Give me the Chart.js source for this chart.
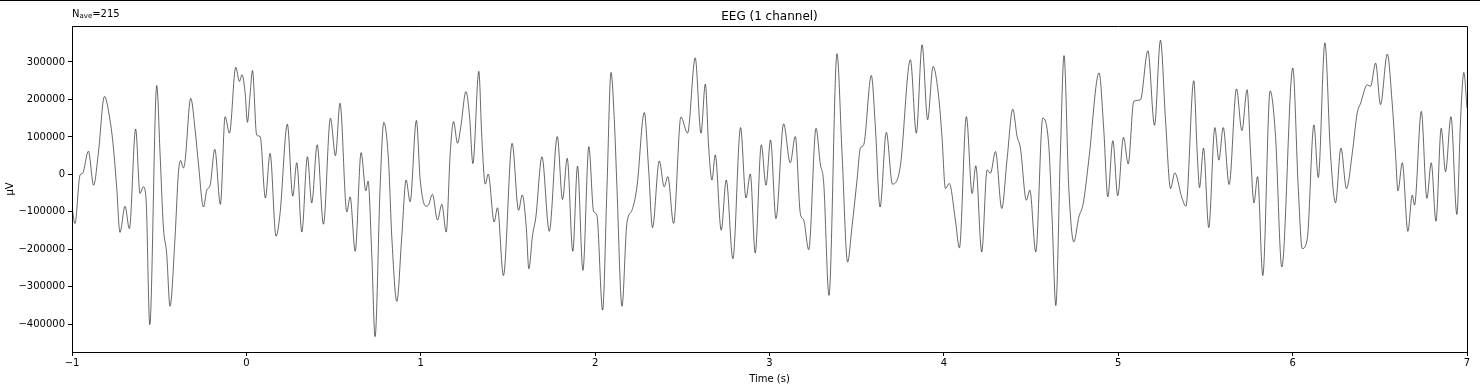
<!DOCTYPE html>
<html>
<head>
<meta charset="utf-8">
<script src="https://cdn.jsdelivr.net/npm/chart.js@4/dist/chart.umd.min.js"></script>
<style>
  html, body { margin: 0; padding: 0; background: #fff; }
  canvas { display: block; }
</style>
</head>
<body>
<canvas id="eegChart" width="1480" height="390"></canvas>
<script>
// EEG trace (time in s, amplitude in µV)
const timesSec = [
  -1.0, -0.983, -0.954, -0.939, -0.906, -0.876, -0.849, -0.814, -0.782, -0.763, -0.744, -0.725, -0.696, -0.671, -0.635,
  -0.610, -0.591, -0.575, -0.554, -0.514, -0.495, -0.476, -0.457, -0.438, -0.409, -0.390, -0.377, -0.361, -0.352, -0.319,
  -0.294, -0.275, -0.246, -0.227, -0.208, -0.181, -0.149, -0.122, -0.097, -0.061, -0.040, -0.025, -0.007, 0.006, 0.021,
  0.035, 0.059, 0.079, 0.109, 0.136, 0.170, 0.193, 0.235, 0.266, 0.289, 0.318, 0.350, 0.375, 0.406, 0.442,
  0.482, 0.511, 0.537, 0.576, 0.595, 0.624, 0.658, 0.685, 0.698, 0.719, 0.738, 0.767, 0.788, 0.815, 0.834,
  0.863, 0.891, 0.916, 0.939, 0.975,
  0.997, 1.029, 1.044, 1.067, 1.096, 1.121, 1.146, 1.169, 1.188, 1.211, 1.230, 1.259, 1.280, 1.299, 1.333,
  1.350, 1.370, 1.387, 1.421, 1.440, 1.474, 1.524, 1.561, 1.582, 1.605, 1.620, 1.641, 1.660, 1.695, 1.737,
  1.783, 1.813, 1.840, 1.872, 1.899, 1.930, 1.964, 1.991, 2.010,
  2.043, 2.068, 2.091, 2.110, 2.125, 2.154, 2.182, 2.211, 2.240, 2.282, 2.307, 2.329, 2.368, 2.396, 2.417,
  2.450, 2.492, 2.530, 2.574, 2.607, 2.632, 2.651, 2.670, 2.689, 2.723, 2.752, 2.790, 2.834, 2.865, 2.890,
  2.918, 2.953, 2.980, 3.006,
  3.037, 3.081, 3.119, 3.148, 3.177, 3.196, 3.225, 3.267, 3.291, 3.311, 3.341, 3.387, 3.416, 3.448, 3.473,
  3.502, 3.521, 3.540, 3.584, 3.607, 3.634, 3.670, 3.705, 3.750, 3.808, 3.842, 3.875, 3.907, 3.938, 3.970,
  3.989, 4.009, 4.031,
  4.066, 4.089, 4.129, 4.162, 4.183, 4.217, 4.248, 4.267, 4.296, 4.332, 4.362, 4.395, 4.420, 4.439, 4.473,
  4.493, 4.527, 4.567, 4.602, 4.621, 4.642, 4.668, 4.689, 4.716, 4.745, 4.774, 4.799, 4.831, 4.890, 4.917,
  4.940, 4.969, 4.997, 5.030,
  5.057, 5.089, 5.127, 5.170, 5.208, 5.242, 5.271, 5.300, 5.324, 5.366, 5.388, 5.433, 5.453, 5.466, 5.489,
  5.519, 5.554, 5.577, 5.602, 5.636, 5.678, 5.709, 5.739, 5.759, 5.778, 5.799, 5.829, 5.871, 5.902, 5.938,
  6.001, 6.032,
  6.055, 6.084, 6.122, 6.147, 6.185, 6.217, 6.246, 6.277, 6.309, 6.342, 6.370, 6.390, 6.428, 6.447, 6.476,
  6.504, 6.543, 6.571, 6.590, 6.604, 6.629, 6.661, 6.686, 6.699, 6.738, 6.770, 6.795, 6.822, 6.852, 6.877,
  6.908, 6.942, 6.963, 6.982, 7.0
];

const amplitudeUV = [
  -87000, -131000, -2000, 3000, 62000, -29000, 56000, 208000, 145000, 74000, -33000, -155000, -85000, -145000, 121000,
  -51000, -33000, -69000, -401000, 237000, 56000, -140000, -212000, -352000, -167000, 3000, 37000, 17000, 34000, 203000,
  119000, 29000, -87000, -42000, -29000, 67000, -80000, 154000, 110000, 286000, 248000, 266000, 217000, 139000, 212000,
  277000, 105000, 101000, -63000, 56000, -165000, -105000, 134000, -58000, 31000, -154000, 47000, -76000, 79000, -133000,
  150000, 50000, 190000, -100000, -60000, -205000, 58000, -44000, -18000, -212000, -433000, -33000, 139000, 38000, -167000,
  -339000, -167000, -15000, -73000, 144000,
  -15000, -85000, -82000, -53000, -122000, -80000, -154000, 56000, 141000, 83000, 128000, 221000, 154000, 29000, 275000,
  101000, -26000, 1000, -127000, -89000, -270000, 83000, -96000, -55000, -140000, -252000, -163000, -114000, 47000, -152000,
  101000, -67000, 43000, -205000, 22000, -256000, 74000, -98000, -109000,
  -362000, -33000, 272000, 146000, -33000, -352000, -131000, -96000, -33000, 165000, 12000, -142000, 36000, -33000, -6000,
  -131000, 153000, 110000, 311000, 110000, 241000, 74000, -15000, 52000, -149000, -15000, -225000, 125000, -63000, 1000,
  -210000, 79000, -29000, 92000,
  -118000, 135000, 31000, 101000, -105000, -122000, -201000, 123000, 29000, -24000, -323000, 322000, 56000, -234000, -140000,
  -15000, 70000, 79000, 264000, 128000, -87000, 112000, -26000, 21000, 306000, 110000, 346000, 146000, 288000, 208000,
  101000, -38000, -24000,
  -122000, -196000, 154000, -51000, 23000, -207000, 12000, 3000, 61000, -91000, 38000, 174000, 101000, 70000, -69000,
  -42000, -207000, 150000, 74000, -122000, -350000, 56000, 317000, -33000, -180000, -114000, -78000, 38000, 271000, 119000,
  -60000, 90000, -57000, 99000,
  28000, 195000, 199000, 330000, 131000, 358000, 146000, -38000, 4000, -64000, -85000, 250000, 56000, -35000, 70000,
  -142000, 125000, 38000, 125000, -27000, 228000, 117000, 226000, 56000, -76000, -6000, -270000, 223000, 101000, -247000,
  284000, -33000,
  -198000, -172000, 132000, -8000, 351000, 56000, -76000, 70000, -38000, 56000, 163000, 190000, 239000, 235000, 297000,
  186000, 321000, 190000, 56000, -44000, 31000, -152000, -55000, -82000, 168000, -64000, 31000, -125000, 123000, 7000,
  154000, -107000, 146000, 272000, 177000
];

const xTicks = [-1, 0, 1, 2, 3, 4, 5, 6, 7];
const yTicks = [-400000, -300000, -200000, -100000, 0, 100000, 200000, 300000];

const titleText = "EEG (1 channel)";
const xLabel = "Time (s)";
const yLabel = "µV";
const nAve = 215;

const FONT = "'DejaVu Sans', sans-serif";

function fmt(v) {
  return v < 0 ? "\u2212" + Math.abs(v) : String(v);
}

// frame, title and labels drawn by hand to match the matplotlib look
const decorations = {
  id: "decorations",
  afterDraw(chart) {
    const c = chart.ctx;
    const a = chart.chartArea;
    c.save();
    c.strokeStyle = "#000";
    c.lineWidth = 1;
    c.beginPath();
    c.moveTo(0, 0.5);
    c.lineTo(chart.width, 0.5);
    c.stroke();
    c.beginPath();
    c.moveTo(a.left, a.top + 0.5);
    c.lineTo(a.right + 0.5, a.top + 0.5);
    c.lineTo(a.right + 0.5, a.bottom);
    c.stroke();

    c.fillStyle = "#000";
    c.textAlign = "center";
    c.textBaseline = "alphabetic";
    c.font = "12px " + FONT;
    c.fillText(titleText, (a.left + a.right) / 2, 20);

    c.font = "10px " + FONT;
    c.fillText(xLabel, (a.left + a.right) / 2, 382);

    c.save();
    c.translate(13, (a.top + a.bottom) / 2);
    c.rotate(-Math.PI / 2);
    c.fillText(yLabel, 0, 0);
    c.restore();

    // N_ave label
    c.textAlign = "left";
    let x = a.left;
    c.font = "10px " + FONT;
    c.fillText("N", x, 17);
    x += c.measureText("N").width;
    c.font = "7px " + FONT;
    c.fillText("ave", x, 18);
    x += c.measureText("ave").width;
    c.font = "10px " + FONT;
    c.fillText("=" + nAve, x, 17);
    c.restore();
  }
};

const ctx = document.getElementById("eegChart");
new Chart(ctx, {
  type: "line",
  data: {
    datasets: [{
      data: timesSec.map((t, i) => ({ x: t, y: amplitudeUV[i] })),
      borderColor: "rgba(0, 0, 0, 0.85)",
      borderWidth: 0.7,
      pointRadius: 0,
      fill: false,
      cubicInterpolationMode: "monotone"
    }]
  },
  options: {
    responsive: false,
    animation: false,
    layout: { padding: { top: 26, left: 0, right: 13, bottom: 0 } },
    plugins: {
      legend: { display: false },
      tooltip: { enabled: false },
      title: { display: false }
    },
    scales: {
      x: {
        type: "linear",
        min: -1,
        max: 7,
        afterBuildTicks: (s) => { s.ticks = xTicks.map(v => ({ value: v })); },
        afterFit: (s) => { s.height = 38; },
        ticks: {
          color: "#000",
          font: { family: FONT, size: 10 },
          padding: 1,
          maxRotation: 0,
          callback: (v) => fmt(v)
        },
        grid: { drawOnChartArea: false, tickLength: 4, color: "#000" },
        border: { color: "#000", width: 1 }
      },
      y: {
        min: -474000,
        max: 396000,
        afterBuildTicks: (s) => { s.ticks = yTicks.map(v => ({ value: v })); },
        afterFit: (s) => { s.width = 72; },
        ticks: {
          color: "#000",
          font: { family: FONT, size: 10 },
          padding: 3,
          callback: (v) => fmt(v)
        },
        grid: { drawOnChartArea: false, tickLength: 4, color: "#000" },
        border: { color: "#000", width: 1 }
      }
    }
  },
  plugins: [decorations]
});
</script>
</body>
</html>
